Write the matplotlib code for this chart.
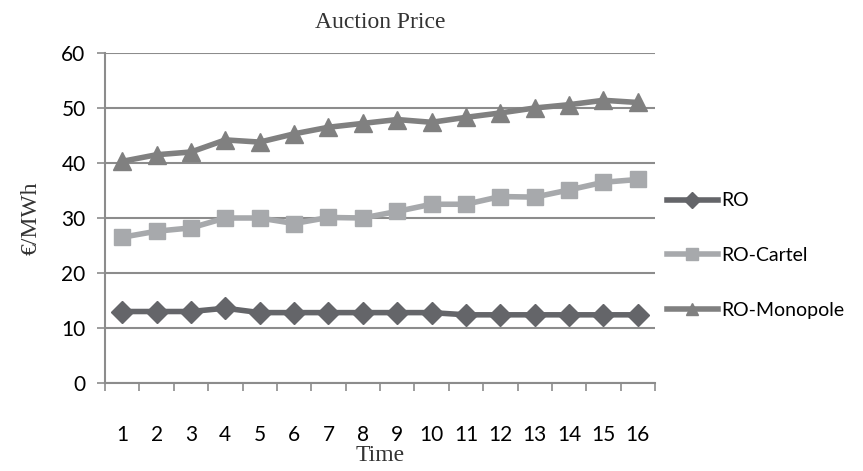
import matplotlib.pyplot as plt
import numpy as np

time = list(range(1, 17))
ro = [13.0, 13.0, 13.0, 13.6, 12.8, 12.8, 12.8, 12.8, 12.8, 12.8, 12.4, 12.4, 12.4, 12.4, 12.4, 12.4]
ro_cartel = [26.5, 27.6, 28.2, 30.0, 30.0, 29.0, 30.1, 30.0, 31.2, 32.5, 32.5, 33.9, 33.8, 35.1, 36.5, 37.0]
ro_monopole = [40.3, 41.5, 42.0, 44.2, 43.8, 45.3, 46.5, 47.2, 47.9, 47.4, 48.3, 49.1, 50.0, 50.6, 51.4, 51.0]
yticks = [0, 10, 20, 30, 40, 50, 60]


def main():
    sans = ['Lato', 'DejaVu Sans']
    serif = ['Liberation Serif', 'DejaVu Serif']

    fig = plt.figure(figsize=(8.63, 4.71), dpi=100)
    ax = fig.add_axes([0.1217, 0.1868, 0.6373, 0.7007])

    ax.plot(time, ro, color='#646569', lw=4, marker='D', ms=11, label='RO')
    ax.plot(time, ro_cartel, color='#a7a9ac', lw=4, marker='s', ms=11, label='RO-Cartel')
    ax.plot(time, ro_monopole, color='#808080', lw=4, marker='^', ms=13, label='RO-Monopole')

    ax.set_xlim(0.5, 16.5)
    ax.set_ylim(0, 60)
    ax.set_yticks(yticks)
    ax.yaxis.grid(True, color='#8c8c8c', lw=1.5)
    ax.set_axisbelow(True)

    ax.set_xticks(np.arange(0.5, 17, 1))
    ax.set_xticklabels([])
    ax.set_xticks(time, minor=True)
    ax.set_xticklabels([str(t) for t in time], minor=True, family=sans, fontsize=15)
    ax.tick_params(axis='x', which='minor', length=0, pad=30)
    ax.tick_params(axis='x', which='major', length=6, color='#8c8c8c', width=1.2)
    ax.tick_params(axis='y', length=6, color='#8c8c8c', width=1.2, labelsize=15, pad=8)
    for lab in ax.get_yticklabels():
        lab.set_family(sans)

    for s in ['top', 'right']:
        ax.spines[s].set_visible(False)
    ax.spines['left'].set_color('#8c8c8c')
    ax.spines['left'].set_linewidth(1.5)
    ax.spines['bottom'].set_color('#8c8c8c')
    ax.spines['bottom'].set_linewidth(1.5)

    ax.set_title('Auction Price', family=serif, fontsize=17, color='#333333', pad=18)
    ax.set_xlabel('Time', family=serif, fontsize=17, color='#333333', labelpad=0)
    ax.set_ylabel('€/MWh', family=serif, fontsize=17, color='#333333', labelpad=14)

    leg = fig.legend(loc='center left', bbox_to_anchor=(0.755, 0.457), frameon=False,
                     prop={'family': sans, 'size': 14}, labelspacing=1.95,
                     handlelength=2.6, handletextpad=0.2, borderpad=0.3)
    for h in leg.legend_handles:
        h.set_markersize(8)

    fig.savefig('out.png', dpi=100)


if __name__ == "__main__":
    main()
